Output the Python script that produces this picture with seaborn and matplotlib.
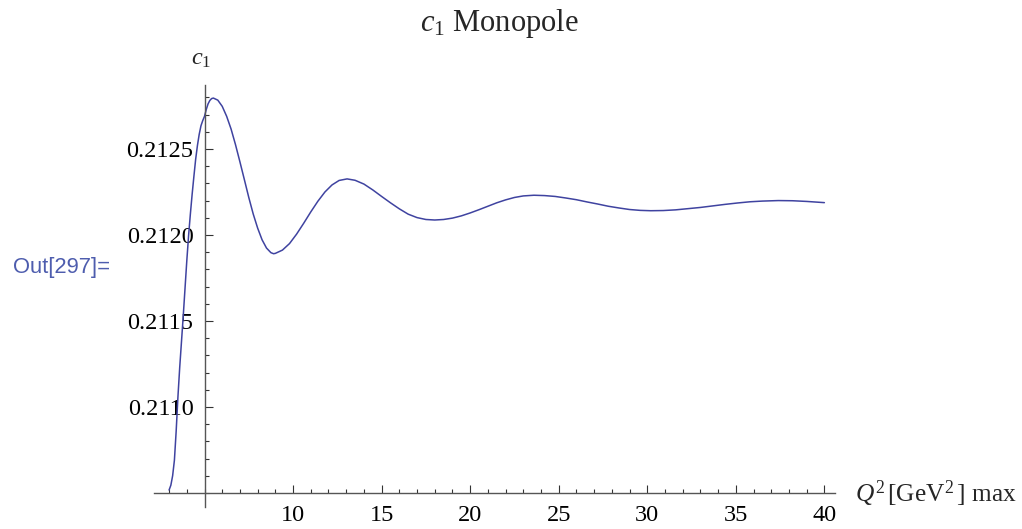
import matplotlib
matplotlib.use("Agg")
import matplotlib.pyplot as plt
from matplotlib.ticker import FixedLocator, MultipleLocator, FuncFormatter
import seaborn as sns
import pandas as pd

# c1 as a function of the upper Q^2 cutoff (GeV^2)
q2_max = [3.0, 3.1, 3.2, 3.3, 3.4, 3.5, 3.6, 3.7, 3.8, 3.9,
          4.0, 4.1, 4.2, 4.3, 4.4, 4.5, 4.6, 4.7, 4.8, 4.9,
          5.0, 5.1, 5.2, 5.3, 5.4, 5.5, 5.75, 6.0, 6.25, 6.5,
          6.75, 7.0, 7.25, 7.5, 7.75, 8.0, 8.25, 8.5, 8.75, 8.9,
          9.0, 9.4, 9.8, 10.2, 10.6, 11.0, 11.4, 11.8, 12.2, 12.6,
          13.05, 13.5, 14.0, 14.5, 15.0, 15.5, 16.0, 16.5, 17.0, 17.5,
          18.0, 18.5, 19.0, 19.5, 20.0, 20.5, 21.0, 21.5, 22.0, 22.5,
          23.0, 23.6, 24.2, 24.8, 25.4, 26.0, 26.6, 27.2, 27.8, 28.4,
          29.0, 29.6, 30.2, 30.9, 31.6, 32.3, 33.0, 33.7, 34.4, 35.1,
          35.8, 36.5, 37.4, 38.2, 39.0, 40.0]
c1_vals = [0.210517, 0.210545, 0.210600, 0.210690, 0.210860, 0.211060,
           0.211230, 0.211380, 0.211530, 0.211690, 0.211850, 0.211995,
           0.212120, 0.212235, 0.212340, 0.212440, 0.212520, 0.212585,
           0.212635, 0.212665, 0.212690, 0.212730, 0.212762, 0.212782,
           0.212793, 0.212796, 0.212784, 0.212748, 0.212690, 0.212616,
           0.212525, 0.212425, 0.212322, 0.212218, 0.212122, 0.212040,
           0.211972, 0.211924, 0.211897, 0.211891, 0.211893, 0.211912,
           0.211950, 0.212005, 0.212068, 0.212134, 0.212196, 0.212250,
           0.212291, 0.212317, 0.212326, 0.212318, 0.212296, 0.212262,
           0.212224, 0.212187, 0.212152, 0.212121, 0.212101, 0.212090,
           0.212087, 0.212090, 0.212098, 0.212111, 0.212128, 0.212147,
           0.212167, 0.212187, 0.212204, 0.212218, 0.212227, 0.212231,
           0.212229, 0.212224, 0.212215, 0.212205, 0.212192, 0.212180,
           0.212167, 0.212157, 0.212148, 0.212143, 0.212141, 0.212142,
           0.212146, 0.212153, 0.212160, 0.212169, 0.212178, 0.212186,
           0.212193, 0.212197, 0.212200, 0.212199, 0.212195, 0.212188]

x_major = [10, 15, 20, 25, 30, 35, 40]
y_major = [0.2110, 0.2115, 0.2120, 0.2125]

sns.set_theme(style="white")
plt.rcParams["font.family"] = ["Liberation Serif", "DejaVu Serif"]
plt.rcParams["mathtext.fontset"] = "custom"
plt.rcParams["mathtext.rm"] = "Liberation Serif"
plt.rcParams["mathtext.it"] = "Liberation Serif:italic"
plt.rcParams["mathtext.bf"] = "Liberation Serif:bold"

W, H = 1022, 529
fig = plt.figure(figsize=(W / 100, H / 100), dpi=100)
ax = fig.add_axes([154 / W, 1 - 506.7 / H, (835 - 154) / W, (506.7 - 85) / H])

df = pd.DataFrame({"q2": q2_max, "c1": c1_vals})
sns.lineplot(data=df, x="q2", y="c1", ax=ax, color="#3F43A0", linewidth=1.1)

ax.set_xlim(2.148, 40.6)
ax.set_ylim(0.21042, 0.212872)

# axes crossing at (5, 0.2105)
for side in ("top", "right"):
    ax.spines[side].set_visible(False)
ax.spines["left"].set_position(("data", 5))
ax.spines["bottom"].set_position(("data", 0.2105))
for side in ("left", "bottom"):
    ax.spines[side].set_color("#555555")
    ax.spines[side].set_linewidth(1.0)

ax.xaxis.set_major_locator(FixedLocator(x_major))
ax.xaxis.set_minor_locator(MultipleLocator(1))
ax.yaxis.set_major_locator(FixedLocator(y_major))
ax.yaxis.set_minor_locator(MultipleLocator(0.0001))
ax.yaxis.set_major_formatter(FuncFormatter(lambda v, p: f"{v:.4f}"))

ax.tick_params(axis="both", which="both", bottom=True, left=True,
               top=False, right=False, direction="in")
ax.tick_params(axis="both", which="major", length=5.5, width=0.8,
               color="#333333", labelsize=17.5, labelcolor="black")
ax.tick_params(axis="both", which="minor", length=3.2, width=0.8,
               color="#333333")
ax.tick_params(axis="x", which="major", pad=9)
ax.tick_params(axis="y", which="major", pad=8)
ax.set_xlabel("")
ax.set_ylabel("")
ax.grid(False)

fig.text(499 / W, 1 - 24 / H, r"$c_1$ Monopole", ha="center", va="center",
         fontsize=22)
fig.text(201 / W, 1 - 60 / H, r"$c_1$", ha="center", va="center",
         fontsize=17.5)
fig.text(855 / W, 1 - 494 / H, r"$Q^2\,[\mathrm{GeV}^2\,]$ max",
         ha="left", va="center", fontsize=18.3)
fig.text(13 / W, 1 - 268 / H, "Out[297]=", ha="left", va="center",
         fontsize=15.8, color="#4E5DAE",
         family=["Liberation Sans", "DejaVu Sans"])

fig.savefig("out.png", dpi=100, facecolor="white")
